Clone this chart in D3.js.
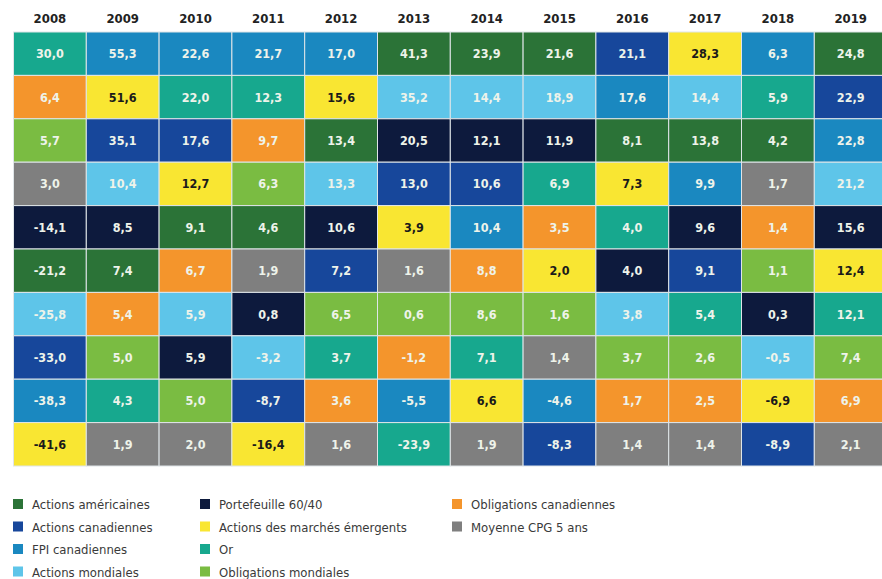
<!DOCTYPE html>
<html>
<head>
<meta charset="utf-8">
<script src="https://cdn.jsdelivr.net/npm/d3@7"></script>
<style>
  body { margin: 0; background: #fff; }
  svg text { font-family: "DejaVu Sans Condensed", "Liberation Sans Narrow", Roboto, sans-serif; }
</style>
</head>
<body>
<div id="chart"></div>
<script>
const years = ['2008', '2009', '2010', '2011', '2012', '2013', '2014', '2015', '2016', '2017', '2018', '2019'];

// asset classes, legend order
const classKeys = ['US', 'CA', 'FPI', 'MON', 'P64', 'EM', 'OR', 'OBM', 'OBC', 'CPG'];
const classLabels = ['Actions américaines', 'Actions canadiennes', 'FPI canadiennes', 'Actions mondiales',
    'Portefeuille 60/40', 'Actions des marchés émergents', 'Or', 'Obligations mondiales',
    'Obligations canadiennes', 'Moyenne CPG 5 ans'];
const classColors = ['#2b7337', '#17479b', '#1a88c0', '#5ec5e9', '#0d1a3d', '#f9e632', '#17a88e', '#7abc42', '#f4952c', '#7f7f7f'];

// ranked returns per year (top to bottom)
const returns = [
    [30.0, 6.4, 5.7, 3.0, -14.1, -21.2, -25.8, -33.0, -38.3, -41.6],
    [55.3, 51.6, 35.1, 10.4, 8.5, 7.4, 5.4, 5.0, 4.3, 1.9],
    [22.6, 22.0, 17.6, 12.7, 9.1, 6.7, 5.9, 5.9, 5.0, 2.0],
    [21.7, 12.3, 9.7, 6.3, 4.6, 1.9, 0.8, -3.2, -8.7, -16.4],
    [17.0, 15.6, 13.4, 13.3, 10.6, 7.2, 6.5, 3.7, 3.6, 1.6],
    [41.3, 35.2, 20.5, 13.0, 3.9, 1.6, 0.6, -1.2, -5.5, -23.9],
    [23.9, 14.4, 12.1, 10.6, 10.4, 8.8, 8.6, 7.1, 6.6, 1.9],
    [21.6, 18.9, 11.9, 6.9, 3.5, 2.0, 1.6, 1.4, -4.6, -8.3],
    [21.1, 17.6, 8.1, 7.3, 4.0, 4.0, 3.8, 3.7, 1.7, 1.4],
    [28.3, 14.4, 13.8, 9.9, 9.6, 9.1, 5.4, 2.6, 2.5, 1.4],
    [6.3, 5.9, 4.2, 1.7, 1.4, 1.1, 0.3, -0.5, -6.9, -8.9],
    [24.8, 22.9, 22.8, 21.2, 15.6, 12.4, 12.1, 7.4, 6.9, 2.1]
];

const ranking = [
    ['OR', 'OBC', 'OBM', 'CPG', 'P64', 'US', 'MON', 'CA', 'FPI', 'EM'],
    ['FPI', 'EM', 'CA', 'MON', 'P64', 'US', 'OBC', 'OBM', 'OR', 'CPG'],
    ['FPI', 'OR', 'CA', 'EM', 'US', 'OBC', 'MON', 'P64', 'OBM', 'CPG'],
    ['FPI', 'OR', 'OBC', 'OBM', 'US', 'CPG', 'P64', 'MON', 'CA', 'EM'],
    ['FPI', 'EM', 'US', 'MON', 'P64', 'CA', 'OBM', 'OR', 'OBC', 'CPG'],
    ['US', 'MON', 'P64', 'CA', 'EM', 'CPG', 'OBM', 'OBC', 'FPI', 'OR'],
    ['US', 'MON', 'P64', 'CA', 'FPI', 'OBC', 'OBM', 'OR', 'EM', 'CPG'],
    ['US', 'MON', 'P64', 'OR', 'OBC', 'EM', 'OBM', 'CPG', 'FPI', 'CA'],
    ['CA', 'FPI', 'US', 'EM', 'OR', 'P64', 'MON', 'OBM', 'OBC', 'CPG'],
    ['EM', 'MON', 'US', 'FPI', 'P64', 'CA', 'OR', 'OBM', 'OBC', 'CPG'],
    ['FPI', 'OR', 'US', 'CPG', 'OBC', 'OBM', 'P64', 'MON', 'EM', 'CA'],
    ['US', 'CA', 'FPI', 'MON', 'P64', 'EM', 'OR', 'OBM', 'OBC', 'CPG']
];

const width = 882;
const height = 579;

const svg = d3.select('#chart').append('svg')
    .attr('width', width)
    .attr('height', height);

const x = d3.scaleBand().domain(years).range([13.5, 13.5 + 12 * 72.8]);
const y = d3.scaleBand().domain(d3.range(10)).range([32, 466]);
const color = d3.scaleOrdinal().domain(classKeys).range(classColors);

// flatten into cells
let cells = [];
years.forEach((yr, i) => {
    returns[i].forEach((v, r) => {
        cells.push({year: yr, rank: r, value: v, cls: ranking[i][r]});
    });
});

const fmt = (v) => d3.format('.1f')(v).replace('.', ',').replace('−', '-');

// year headers
svg.selectAll('.year')
    .data(years)
    .enter().append('text')
    .attr('class', 'year')
    .attr('x', (d) => x(d) + x.bandwidth() / 2)
    .attr('y', 23)
    .attr('text-anchor', 'middle')
    .attr('font-size', 13)
    .attr('font-weight', 'bold')
    .attr('fill', '#222')
    .text((d) => d);

const cell = svg.selectAll('.cell')
    .data(cells)
    .enter().append('g')
    .attr('class', 'cell');

cell.append('rect')
    .attr('x', (d) => x(d.year))
    .attr('y', (d) => y(d.rank))
    .attr('width', x.bandwidth())
    .attr('height', y.bandwidth())
    .attr('fill', (d) => color(d.cls))
    .attr('stroke', '#dfe5e8')
    .attr('stroke-width', 1);

cell.append('text')
    .attr('x', (d) => x(d.year) + x.bandwidth() / 2)
    .attr('y', (d) => y(d.rank) + y.bandwidth() / 2 + 4.5)
    .attr('text-anchor', 'middle')
    .attr('font-size', 12.5)
    .attr('font-weight', 'bold')
    .attr('fill', (d) => d.cls === 'EM' ? '#1a1a1a' : '#eef3ea')
    .text((d) => fmt(d.value));

// legend, 3 columns of 4
const legendX = [13, 200, 452];
const legend = svg.selectAll('.legend')
    .data(classKeys)
    .enter().append('g')
    .attr('class', 'legend')
    .attr('transform', (d, i) => 'translate(' + legendX[Math.floor(i / 4)] + ',' + (499 + (i % 4) * 22.5) + ')');

legend.append('rect')
    .attr('width', 10)
    .attr('height', 10)
    .attr('fill', (d) => color(d));

legend.append('text')
    .attr('x', 19)
    .attr('y', 10)
    .attr('font-size', 13)
    .attr('fill', '#3a3a3a')
    .text((d, i) => classLabels[i]);
</script>
</body>
</html>
